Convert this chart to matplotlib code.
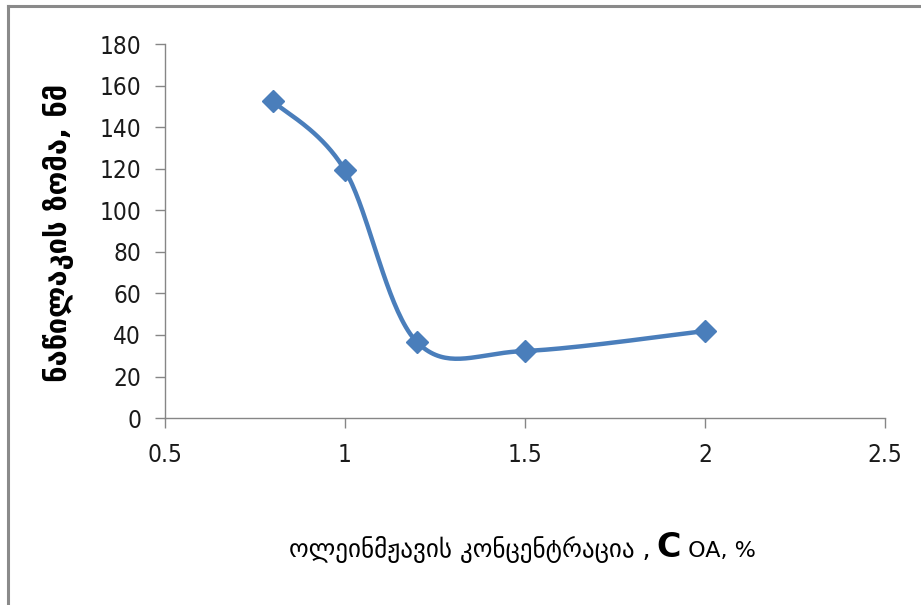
import matplotlib
matplotlib.use("Agg")
import matplotlib.pyplot as plt
from matplotlib import font_manager
import numpy as np

# data
conc = [0.8, 1.0, 1.2, 1.5, 2.0]
size_nm = [152.5, 119.3, 36.6, 32.3, 41.9]
xticks = [0.5, 1, 1.5, 2, 2.5]
xtick_labels = ["0.5", "1", "1.5", "2", "2.5"]
yticks = [0, 20, 40, 60, 80, 100, 120, 140, 160, 180]

ylab = "ნაწილაკის ზომა, ნმ"
xlab_1 = "ოლეინმჟავის კონცენტრაცია ,"
xlab_2 = "C"
xlab_3 = " OA, %"

blue = "#4a7ebb"
grey = "#868686"

# narrow digits like the original, if a condensed face is around
names = {f.name for f in font_manager.fontManager.ttflist}
if "Liberation Sans Narrow" in names:
    tick_fp = font_manager.FontProperties(family="Liberation Sans Narrow", size=18)
elif "DejaVu Sans Condensed" in names:
    tick_fp = font_manager.FontProperties(family="DejaVu Sans Condensed", size=17.5)
else:
    tick_fp = font_manager.FontProperties(family="DejaVu Sans", stretch="condensed", size=17.5)

fig = plt.figure(figsize=(9.21, 6.05), dpi=100)
ax = fig.add_axes([0.179, 0.309, 0.782, 0.618])
ax.set_xlim(0.5, 2.5)
ax.set_ylim(0, 180)

# outer chart border (only top and left visible in the picture)
fig.add_artist(plt.Line2D([0.0085, 0.0085], [0, 0.99], transform=fig.transFigure,
                          color="#8a8a8a", lw=2.2))
fig.add_artist(plt.Line2D([0.0085, 1.0], [0.99, 0.99], transform=fig.transFigure,
                          color="#8a8a8a", lw=2.2))


def excel_smooth(xs, ys, n=40):
    # Excel-style smoothed line: cubic bezier with catmull-rom controls in screen space
    pts = ax.transData.transform(np.column_stack([xs, ys]))
    out = []
    for i in range(len(pts) - 1):
        p0 = pts[i - 1] if i > 0 else pts[i]
        p1 = pts[i]
        p2 = pts[i + 1]
        p3 = pts[i + 2] if i + 2 < len(pts) else pts[i + 1]
        c1 = p1 + (p2 - p0) / 6.0
        c2 = p2 - (p3 - p1) / 6.0
        t = np.linspace(0, 1, n)[:, None]
        seg = ((1 - t) ** 3) * p1 + 3 * ((1 - t) ** 2) * t * c1 + 3 * (1 - t) * t ** 2 * c2 + t ** 3 * p2
        out.append(seg if i == 0 else seg[1:])
    out = np.vstack(out)
    return ax.transData.inverted().transform(out)


curve = excel_smooth(conc, size_nm)
ax.plot(curve[:, 0], curve[:, 1], color=blue, lw=3.2, solid_capstyle="round", zorder=2)
ax.plot(conc, size_nm, linestyle="none", marker="D", markersize=11, color=blue, zorder=3)

for s in ["top", "right"]:
    ax.spines[s].set_visible(False)
for s in ["left", "bottom"]:
    ax.spines[s].set_color(grey)
    ax.spines[s].set_linewidth(1.0)

ax.set_xticks(xticks)
ax.set_xticklabels(xtick_labels)
ax.set_yticks(yticks)
ax.tick_params(axis="both", direction="out", length=7, width=1.0, color=grey,
               labelcolor="#1a1a1a")
ax.tick_params(axis="x", pad=11)
ax.tick_params(axis="y", pad=10)
for lab in ax.get_xticklabels() + ax.get_yticklabels():
    lab.set_fontproperties(tick_fp)

fig.text(0.064, 0.615, ylab, rotation=90, ha="center", va="center",
         fontsize=21, fontweight="bold", family=["DejaVu Sans"])

# x label assembled from three pieces so the "C" can be bigger
fig.canvas.draw()
r = fig.canvas.get_renderer()
y0 = 0.08
t1 = fig.text(0.30, y0, xlab_1, ha="left", va="baseline", fontsize=18, family=["DejaVu Sans"])
bb = t1.get_window_extent(r).transformed(fig.transFigure.inverted())
t2 = fig.text(bb.x1 + 0.006, y0, xlab_2, ha="left", va="baseline", fontsize=24,
              fontweight="bold", family=["DejaVu Sans"])
bb2 = t2.get_window_extent(r).transformed(fig.transFigure.inverted())
t3 = fig.text(bb2.x1, y0, xlab_3, ha="left", va="baseline", fontsize=16, family=["DejaVu Sans"])
bb3 = t3.get_window_extent(r).transformed(fig.transFigure.inverted())
# recentre the whole label around x = 0.567
shift = 0.567 - (bb.x0 + bb3.x1) / 2
for t in (t1, t2, t3):
    x, y = t.get_position()
    t.set_position((x + shift, y))

fig.savefig("out.png", dpi=100, facecolor="white")
